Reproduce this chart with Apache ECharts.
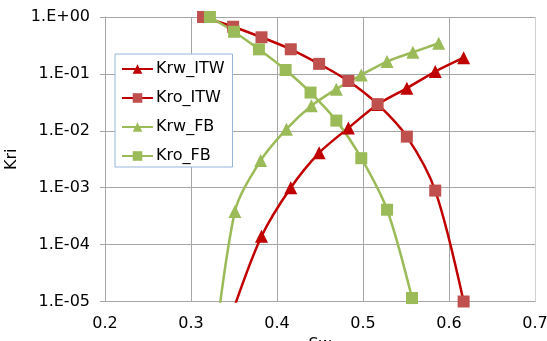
<!DOCTYPE html>
<html>
<head>
<meta charset="utf-8">
<script src="https://cdn.jsdelivr.net/npm/echarts@6/dist/echarts.min.js"></script>
<style>
  html, body { margin: 0; padding: 0; background: #fff; }
  #main { width: 547px; height: 341px; }
</style>
</head>
<body>
<div id="main"></div>
<script>
// Sw values and relative permeabilities
const swITW = [0.314, 0.349, 0.382, 0.416, 0.449, 0.483, 0.517, 0.551, 0.584, 0.617]
const krwITW = [null, 7e-6, 1.4e-4, 1.0e-3, 4.1e-3, 1.12e-2, 2.9e-2, 5.6e-2, 1.1e-1, 1.93e-1]
const kroITW = [1.0, 0.675, 0.44, 0.271, 0.15, 0.075, 0.0294, 0.0079, 0.00089, 1.0e-5]

const swFB = [0.322, 0.351, 0.381, 0.411, 0.440, 0.469, 0.498, 0.528, 0.558, 0.588]
const krwFB = [3e-7, 3.8e-4, 3.0e-3, 1.07e-2, 2.75e-2, 5.4e-2, 9.6e-2, 0.165, 0.24, 0.345]
const swFBo = [0.322, 0.350, 0.379, 0.410, 0.439, 0.469, 0.498, 0.528, 0.557]
const kroFB = [1.0, 0.55, 0.27, 0.117, 0.047, 0.0151, 0.0033, 4.1e-4, 1.15e-5]

const xTicks = [0.2, 0.3, 0.4, 0.5, 0.6, 0.7]

const pairs = (xs, ys) => xs.map((x, i) => [x, ys[i]]).filter(p => p[1] != null)

const font = 'DejaVu Sans'
const red = '#C00000'
const redSq = '#C0504D'
const green = '#9BBB59'

const chart = echarts.init(document.getElementById('main'))

const line = (name, data, color, symbol, symColor, size) => ({
  name,
  type: 'line',
  data,
  smooth: 0.3,
  clip: true,
  symbol,
  symbolSize: size,
  showAllSymbol: true,
  lineStyle: { color, width: 2.5 },
  itemStyle: { color: symColor, borderWidth: 0 },
  emphasis: { disabled: true }
})

chart.setOption({
  animation: false,
  grid: { left: 105, right: 12, top: 17, bottom: 39.5, containLabel: false, outerBoundsMode: 'none' },
  legend: {
    orient: 'vertical',
    left: 115,
    top: 54,
    width: 117,
    padding: [7, 8, 3, 6],
    itemGap: 13,
    itemWidth: 31,
    itemHeight: 12,
    borderColor: '#95B3D7',
    borderWidth: 1,
    backgroundColor: '#fff',
    textStyle: { fontFamily: font, fontSize: 16, color: '#000', padding: [0, 0, 0, -2] },
    data: ['Krw_ITW', 'Kro_ITW', 'Krw_FB', 'Kro_FB']
  },
  xAxis: {
    type: 'value',
    min: 0.2,
    max: 0.7,
    interval: 0.1,
    name: 'Sw',
    nameLocation: 'middle',
    nameGap: 33,
    nameTextStyle: { fontFamily: font, fontSize: 16, color: '#000' },
    axisLine: { lineStyle: { color: '#a6a6a6' } },
    axisTick: { show: false },
    axisLabel: {
      fontFamily: font, fontSize: 16, color: '#000', margin: 14,
      formatter: v => xTicks.includes(+v.toFixed(1)) ? v.toFixed(1) : ''
    },
    splitLine: { lineStyle: { color: ['#a6a6a6', '#a6a6a6', '#a6a6a6', '#a6a6a6', '#a6a6a6', '#d0d0d0'], width: 1 } }
  },
  yAxis: {
    type: 'log',
    logBase: 10,
    min: 1e-5,
    max: 1,
    name: 'Kri',
    nameLocation: 'middle',
    nameGap: 80,
    nameTextStyle: { fontFamily: font, fontSize: 16, color: '#000' },
    axisLine: { show: true, lineStyle: { color: '#a6a6a6' } },
    axisTick: { show: true, inside: false, length: 5, lineStyle: { color: '#a6a6a6' } },
    axisLabel: {
      fontFamily: font, fontSize: 16, color: '#000', margin: 15,
      formatter: v => {
        const e = Math.round(Math.log10(v))
        return '1.E' + (e < 0 ? '-' : '+') + String(Math.abs(e)).padStart(2, '0')
      }
    },
    splitLine: { lineStyle: { color: '#a6a6a6' } }
  },
  series: [
    line('Krw_ITW', pairs(swITW, krwITW), red, 'triangle', red, 13),
    line('Kro_ITW', pairs(swITW, kroITW), red, 'rect', redSq, 12),
    line('Krw_FB', pairs(swFB, krwFB), green, 'triangle', green, 13),
    line('Kro_FB', pairs(swFBo, kroFB), green, 'rect', green, 12)
  ]
})
</script>
</body>
</html>
